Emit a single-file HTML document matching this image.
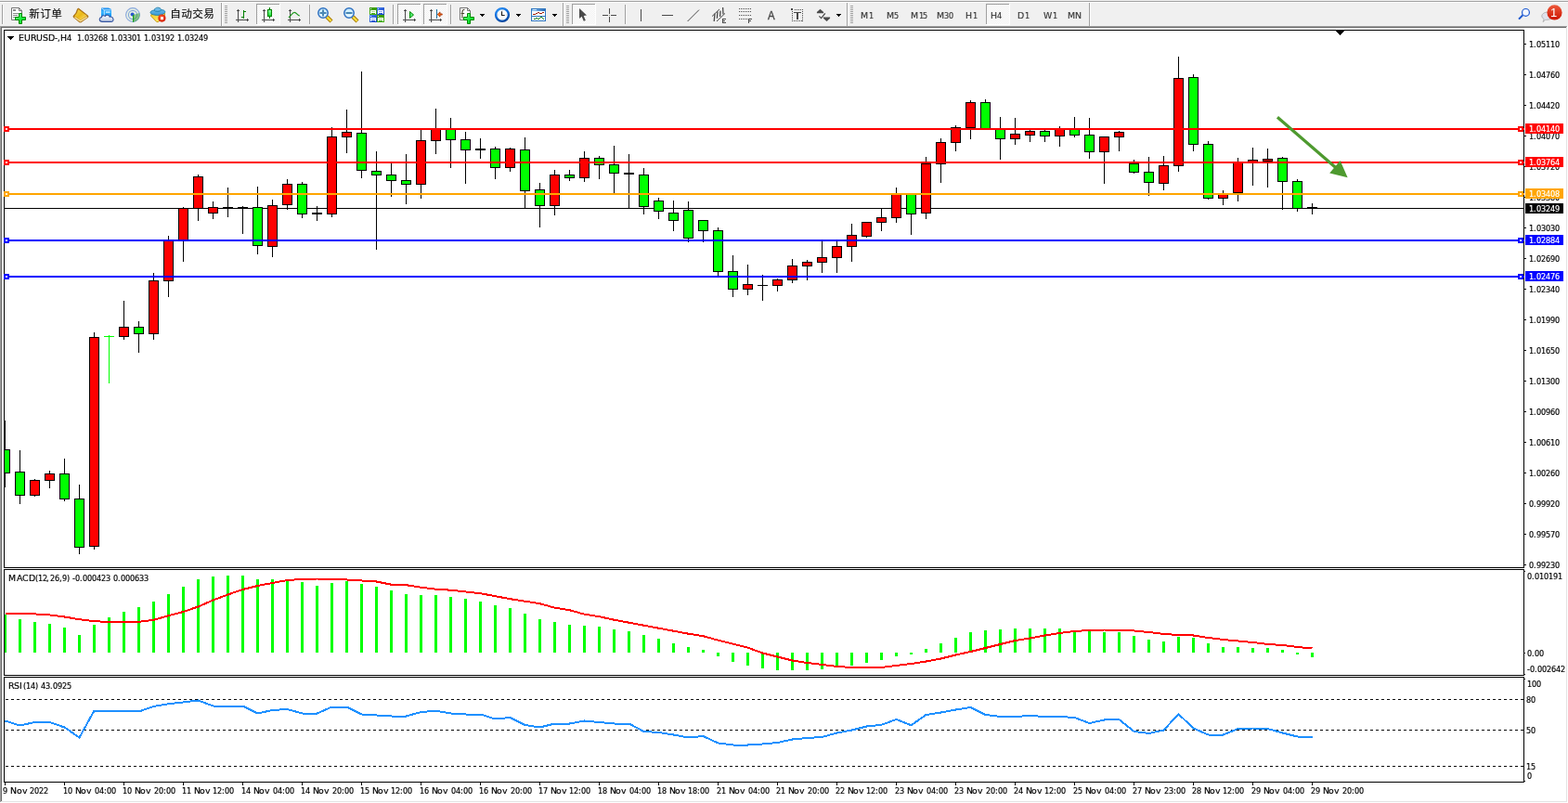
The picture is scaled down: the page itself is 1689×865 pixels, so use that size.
<!DOCTYPE html>
<html lang="zh"><head><meta charset="utf-8"><title>EURUSD-,H4</title>
<style>
html,body{margin:0;padding:0;background:#fff;overflow:hidden}
body{width:1689px;height:865px;position:relative;font-family:"Liberation Sans","Noto Sans CJK SC",sans-serif}
svg{position:absolute;left:0;top:0;display:block}
svg text{font-family:"Liberation Sans","Noto Sans CJK SC",sans-serif;white-space:pre}
.ct text{font-family:"DejaVu Sans Condensed","DejaVu Sans","Liberation Sans",sans-serif;font-size:9px}
.ct .w{font-family:"DejaVu Sans","Liberation Sans",sans-serif;font-size:9.4px}
</style></head><body>
<svg width="1689" height="865" viewBox="0 0 1689 865">
<defs>
<clipPath id="cm"><rect x="5" y="33" width="1636" height="578"/></clipPath>
<clipPath id="c2"><rect x="5" y="614" width="1636" height="113"/></clipPath>
<clipPath id="c3"><rect x="5" y="730" width="1636" height="112"/></clipPath>

<pattern id="chk" width="2" height="2" patternUnits="userSpaceOnUse"><rect width="2" height="2" fill="#fff"/><rect width="1" height="1" fill="#f0f0f0"/><rect x="1" y="1" width="1" height="1" fill="#f0f0f0"/></pattern>
<linearGradient id="gplus" x1="0" y1="0" x2="1" y2="1"><stop offset="0" stop-color="#8dff9a"/><stop offset=".5" stop-color="#1af040"/><stop offset="1" stop-color="#00c020"/></linearGradient>
<linearGradient id="ggold" x1="0" y1="0" x2="1" y2="1"><stop offset="0" stop-color="#f6d648"/><stop offset=".5" stop-color="#eab818"/><stop offset="1" stop-color="#ffe27a"/></linearGradient>
<linearGradient id="gsrv" x1="0" y1="0" x2="0" y2="1"><stop offset="0" stop-color="#1a8cf0"/><stop offset=".5" stop-color="#38b4ff"/><stop offset="1" stop-color="#0a8ef0"/></linearGradient>
<linearGradient id="gcloud" x1="0" y1="0" x2="0" y2="1"><stop offset="0" stop-color="#ffffff"/><stop offset="1" stop-color="#b8c6e0"/></linearGradient>
<linearGradient id="ghat" x1="0" y1="0" x2="0" y2="1"><stop offset="0" stop-color="#7cc4ee"/><stop offset="1" stop-color="#3a9ad6"/></linearGradient>
<linearGradient id="gface" x1="0" y1="0" x2="1" y2="1"><stop offset="0" stop-color="#f4c820"/><stop offset="1" stop-color="#fff480"/></linearGradient>
<radialGradient id="gstop" cx=".4" cy=".35" r=".7"><stop offset="0" stop-color="#ff5a30"/><stop offset="1" stop-color="#d01800"/></radialGradient>
<linearGradient id="gcandle" x1="0" y1="0" x2="0" y2="1"><stop offset="0" stop-color="#90ffa0"/><stop offset="1" stop-color="#18e038"/></linearGradient>
<linearGradient id="glens" x1="0" y1="0" x2="0" y2="1"><stop offset="0" stop-color="#c8ecff"/><stop offset="1" stop-color="#e8f8ff"/></linearGradient>
<linearGradient id="ghandle" x1="0" y1="0" x2="1" y2="0"><stop offset="0" stop-color="#c89000"/><stop offset=".5" stop-color="#fff060"/><stop offset="1" stop-color="#c89000"/></linearGradient>
<linearGradient id="gtg" x1="0" y1="0" x2="0" y2="1"><stop offset="0" stop-color="#3a9a08"/><stop offset="1" stop-color="#48b018"/></linearGradient>
<linearGradient id="gtb" x1="0" y1="0" x2="1" y2="1"><stop offset="0" stop-color="#4a80f0"/><stop offset="1" stop-color="#1040c0"/></linearGradient>
<radialGradient id="gclock" cx=".4" cy=".3" r=".8"><stop offset="0" stop-color="#40a8ff"/><stop offset=".6" stop-color="#1070e0"/><stop offset="1" stop-color="#003c90"/></radialGradient>
<linearGradient id="gtpl" x1="0" y1="0" x2="1" y2="0"><stop offset="0" stop-color="#8ec4f4"/><stop offset="1" stop-color="#2a6cb8"/></linearGradient>
<linearGradient id="gbadge" x1="0" y1="0" x2="0" y2="1"><stop offset="0" stop-color="#ee5a3c"/><stop offset="1" stop-color="#cc1400"/></linearGradient>
<radialGradient id="gsig" cx=".5" cy=".5" r=".5"><stop offset="0" stop-color="#ffffff" stop-opacity="0"/><stop offset="1" stop-color="#3a9a3a" stop-opacity=".0"/></radialGradient>

</defs>
<g shape-rendering="crispEdges">
<rect x="0" y="0" width="1689" height="865" fill="#fff"/>
<rect x="0" y="0" width="1689" height="28" fill="#f0f0f0"/>
<rect x="0" y="1" width="1689" height="1" fill="#a0a0a0"/>
<rect x="0" y="2" width="1689" height="1" fill="#fff"/>
<rect x="0" y="28" width="1689" height="1" fill="#a0a0a0"/>
<rect x="0" y="28" width="1" height="837" fill="#a0a0a0"/>
<rect x="1" y="29" width="1687" height="1" fill="#696969"/>
<rect x="1" y="29" width="1" height="835" fill="#696969"/>
<rect x="1688" y="28" width="1" height="837" fill="#fff"/>
<rect x="0" y="864" width="1689" height="1" fill="#fff"/>
<rect x="1687" y="29" width="1" height="835" fill="#e3e3e3"/>
<rect x="1" y="863" width="1687" height="1" fill="#e3e3e3"/>
<rect x="4" y="32" width="1638" height="1" fill="#000"/><rect x="4" y="611" width="1638" height="1" fill="#000"/><rect x="4" y="32" width="1" height="580" fill="#000"/><rect x="1641" y="32" width="1" height="580" fill="#000"/><rect x="4" y="613" width="1638" height="1" fill="#000"/><rect x="4" y="727" width="1638" height="1" fill="#000"/><rect x="4" y="613" width="1" height="115" fill="#000"/><rect x="1641" y="613" width="1" height="115" fill="#000"/><rect x="4" y="729" width="1638" height="1" fill="#000"/><rect x="4" y="842" width="1638" height="1" fill="#000"/><rect x="4" y="729" width="1" height="114" fill="#000"/><rect x="1641" y="729" width="1" height="114" fill="#000"/><rect x="5" y="224" width="1636" height="1" fill="#000"/><g clip-path="url(#cm)"><rect x="5" y="453" width="1" height="72" fill="#000"/><rect x="0.5" y="484.5" width="10" height="25" fill="#00ff00" stroke="#000" stroke-width="1"/><rect x="21" y="485" width="1" height="58" fill="#000"/><rect x="16.5" y="508.5" width="10" height="25" fill="#00ff00" stroke="#000" stroke-width="1"/><rect x="37" y="516" width="1" height="19" fill="#000"/><rect x="32.5" y="517.5" width="10" height="16" fill="#ff0000" stroke="#000" stroke-width="1"/><rect x="53" y="507" width="1" height="19" fill="#000"/><rect x="48.5" y="510.5" width="10" height="7" fill="#ff0000" stroke="#000" stroke-width="1"/><rect x="69" y="494" width="1" height="46" fill="#000"/><rect x="64.5" y="510.5" width="10" height="27" fill="#00ff00" stroke="#000" stroke-width="1"/><rect x="85" y="522" width="1" height="75" fill="#000"/><rect x="80.5" y="537.5" width="10" height="52" fill="#00ff00" stroke="#000" stroke-width="1"/><rect x="101" y="358" width="1" height="234" fill="#000"/><rect x="96.5" y="363.5" width="10" height="225" fill="#ff0000" stroke="#000" stroke-width="1"/><rect x="133" y="324" width="1" height="42" fill="#000"/><rect x="128.5" y="352.5" width="10" height="10" fill="#ff0000" stroke="#000" stroke-width="1"/><rect x="149" y="346" width="1" height="34" fill="#000"/><rect x="144.5" y="352.5" width="10" height="7" fill="#00ff00" stroke="#000" stroke-width="1"/><rect x="165" y="294" width="1" height="72" fill="#000"/><rect x="160.5" y="302.5" width="10" height="57" fill="#ff0000" stroke="#000" stroke-width="1"/><rect x="181" y="254" width="1" height="66" fill="#000"/><rect x="176.5" y="259.5" width="10" height="43" fill="#ff0000" stroke="#000" stroke-width="1"/><rect x="197" y="223" width="1" height="59" fill="#000"/><rect x="192.5" y="224.5" width="10" height="34" fill="#ff0000" stroke="#000" stroke-width="1"/><rect x="213" y="188" width="1" height="50" fill="#000"/><rect x="208.5" y="190.5" width="10" height="34" fill="#ff0000" stroke="#000" stroke-width="1"/><rect x="229" y="217" width="1" height="19" fill="#000"/><rect x="224.5" y="223.5" width="10" height="6" fill="#ff0000" stroke="#000" stroke-width="1"/><rect x="277" y="201" width="1" height="73" fill="#000"/><rect x="272.5" y="223.5" width="10" height="41" fill="#00ff00" stroke="#000" stroke-width="1"/><rect x="293" y="215" width="1" height="62" fill="#000"/><rect x="288.5" y="221.5" width="10" height="44" fill="#ff0000" stroke="#000" stroke-width="1"/><rect x="309" y="193" width="1" height="33" fill="#000"/><rect x="304.5" y="198.5" width="10" height="22" fill="#ff0000" stroke="#000" stroke-width="1"/><rect x="325" y="196" width="1" height="39" fill="#000"/><rect x="320.5" y="198.5" width="10" height="32" fill="#00ff00" stroke="#000" stroke-width="1"/><rect x="357" y="137" width="1" height="97" fill="#000"/><rect x="352.5" y="147.5" width="10" height="83" fill="#ff0000" stroke="#000" stroke-width="1"/><rect x="373" y="118" width="1" height="47" fill="#000"/><rect x="368.5" y="142.5" width="10" height="5" fill="#ff0000" stroke="#000" stroke-width="1"/><rect x="389" y="77" width="1" height="115" fill="#000"/><rect x="384.5" y="143.5" width="10" height="40" fill="#00ff00" stroke="#000" stroke-width="1"/><rect x="405" y="163" width="1" height="106" fill="#000"/><rect x="400.5" y="184.5" width="10" height="4" fill="#00ff00" stroke="#000" stroke-width="1"/><rect x="421" y="175" width="1" height="37" fill="#000"/><rect x="416.5" y="188.5" width="10" height="6" fill="#00ff00" stroke="#000" stroke-width="1"/><rect x="437" y="166" width="1" height="54" fill="#000"/><rect x="432.5" y="194.5" width="10" height="4" fill="#00ff00" stroke="#000" stroke-width="1"/><rect x="453" y="140" width="1" height="74" fill="#000"/><rect x="448.5" y="151.5" width="10" height="47" fill="#ff0000" stroke="#000" stroke-width="1"/><rect x="469" y="117" width="1" height="49" fill="#000"/><rect x="464.5" y="139.5" width="10" height="12" fill="#ff0000" stroke="#000" stroke-width="1"/><rect x="485" y="127" width="1" height="54" fill="#000"/><rect x="480.5" y="139.5" width="10" height="11" fill="#00ff00" stroke="#000" stroke-width="1"/><rect x="501" y="142" width="1" height="56" fill="#000"/><rect x="496.5" y="150.5" width="10" height="11" fill="#00ff00" stroke="#000" stroke-width="1"/><rect x="533" y="158" width="1" height="35" fill="#000"/><rect x="528.5" y="160.5" width="10" height="20" fill="#00ff00" stroke="#000" stroke-width="1"/><rect x="549" y="159" width="1" height="26" fill="#000"/><rect x="544.5" y="160.5" width="10" height="20" fill="#ff0000" stroke="#000" stroke-width="1"/><rect x="565" y="148" width="1" height="76" fill="#000"/><rect x="560.5" y="161.5" width="10" height="44" fill="#00ff00" stroke="#000" stroke-width="1"/><rect x="581" y="197" width="1" height="48" fill="#000"/><rect x="576.5" y="204.5" width="10" height="17" fill="#00ff00" stroke="#000" stroke-width="1"/><rect x="597" y="183" width="1" height="49" fill="#000"/><rect x="592.5" y="188.5" width="10" height="33" fill="#ff0000" stroke="#000" stroke-width="1"/><rect x="613" y="183" width="1" height="12" fill="#000"/><rect x="608.5" y="188.5" width="10" height="3" fill="#00ff00" stroke="#000" stroke-width="1"/><rect x="629" y="163" width="1" height="33" fill="#000"/><rect x="624.5" y="170.5" width="10" height="21" fill="#ff0000" stroke="#000" stroke-width="1"/><rect x="645" y="168" width="1" height="25" fill="#000"/><rect x="640.5" y="170.5" width="10" height="7" fill="#00ff00" stroke="#000" stroke-width="1"/><rect x="661" y="157" width="1" height="51" fill="#000"/><rect x="656.5" y="177.5" width="10" height="9" fill="#00ff00" stroke="#000" stroke-width="1"/><rect x="693" y="181" width="1" height="50" fill="#000"/><rect x="688.5" y="188.5" width="10" height="34" fill="#00ff00" stroke="#000" stroke-width="1"/><rect x="709" y="213" width="1" height="23" fill="#000"/><rect x="704.5" y="216.5" width="10" height="11" fill="#00ff00" stroke="#000" stroke-width="1"/><rect x="725" y="216" width="1" height="33" fill="#000"/><rect x="720.5" y="229.5" width="10" height="8" fill="#00ff00" stroke="#000" stroke-width="1"/><rect x="741" y="217" width="1" height="44" fill="#000"/><rect x="736.5" y="226.5" width="10" height="30" fill="#00ff00" stroke="#000" stroke-width="1"/><rect x="757" y="237" width="1" height="24" fill="#000"/><rect x="752.5" y="237.5" width="10" height="11" fill="#00ff00" stroke="#000" stroke-width="1"/><rect x="773" y="245" width="1" height="52" fill="#000"/><rect x="768.5" y="248.5" width="10" height="44" fill="#00ff00" stroke="#000" stroke-width="1"/><rect x="789" y="275" width="1" height="45" fill="#000"/><rect x="784.5" y="292.5" width="10" height="19" fill="#00ff00" stroke="#000" stroke-width="1"/><rect x="805" y="285" width="1" height="33" fill="#000"/><rect x="800.5" y="306.5" width="10" height="5" fill="#ff0000" stroke="#000" stroke-width="1"/><rect x="837" y="300" width="1" height="14" fill="#000"/><rect x="832.5" y="301.5" width="10" height="6" fill="#ff0000" stroke="#000" stroke-width="1"/><rect x="853" y="279" width="1" height="26" fill="#000"/><rect x="848.5" y="286.5" width="10" height="15" fill="#ff0000" stroke="#000" stroke-width="1"/><rect x="869" y="280" width="1" height="22" fill="#000"/><rect x="864.5" y="282.5" width="10" height="4" fill="#ff0000" stroke="#000" stroke-width="1"/><rect x="885" y="260" width="1" height="34" fill="#000"/><rect x="880.5" y="277.5" width="10" height="5" fill="#ff0000" stroke="#000" stroke-width="1"/><rect x="901" y="260" width="1" height="34" fill="#000"/><rect x="896.5" y="265.5" width="10" height="12" fill="#ff0000" stroke="#000" stroke-width="1"/><rect x="917" y="241" width="1" height="41" fill="#000"/><rect x="912.5" y="253.5" width="10" height="12" fill="#ff0000" stroke="#000" stroke-width="1"/><rect x="933" y="239" width="1" height="17" fill="#000"/><rect x="928.5" y="239.5" width="10" height="15" fill="#ff0000" stroke="#000" stroke-width="1"/><rect x="949" y="225" width="1" height="24" fill="#000"/><rect x="944.5" y="234.5" width="10" height="5" fill="#ff0000" stroke="#000" stroke-width="1"/><rect x="965" y="202" width="1" height="38" fill="#000"/><rect x="960.5" y="208.5" width="10" height="26" fill="#ff0000" stroke="#000" stroke-width="1"/><rect x="981" y="208" width="1" height="45" fill="#000"/><rect x="976.5" y="208.5" width="10" height="22" fill="#00ff00" stroke="#000" stroke-width="1"/><rect x="997" y="169" width="1" height="67" fill="#000"/><rect x="992.5" y="176.5" width="10" height="53" fill="#ff0000" stroke="#000" stroke-width="1"/><rect x="1013" y="149" width="1" height="48" fill="#000"/><rect x="1008.5" y="153.5" width="10" height="23" fill="#ff0000" stroke="#000" stroke-width="1"/><rect x="1029" y="135" width="1" height="28" fill="#000"/><rect x="1024.5" y="137.5" width="10" height="16" fill="#ff0000" stroke="#000" stroke-width="1"/><rect x="1045" y="108" width="1" height="42" fill="#000"/><rect x="1040.5" y="110.5" width="10" height="27" fill="#ff0000" stroke="#000" stroke-width="1"/><rect x="1061" y="107" width="1" height="32" fill="#000"/><rect x="1056.5" y="110.5" width="10" height="28" fill="#00ff00" stroke="#000" stroke-width="1"/><rect x="1077" y="126" width="1" height="46" fill="#000"/><rect x="1072.5" y="139.5" width="10" height="10" fill="#00ff00" stroke="#000" stroke-width="1"/><rect x="1093" y="127" width="1" height="29" fill="#000"/><rect x="1088.5" y="144.5" width="10" height="5" fill="#ff0000" stroke="#000" stroke-width="1"/><rect x="1109" y="140" width="1" height="13" fill="#000"/><rect x="1104.5" y="141.5" width="10" height="4" fill="#ff0000" stroke="#000" stroke-width="1"/><rect x="1125" y="140" width="1" height="13" fill="#000"/><rect x="1120.5" y="141.5" width="10" height="5" fill="#00ff00" stroke="#000" stroke-width="1"/><rect x="1141" y="136" width="1" height="22" fill="#000"/><rect x="1136.5" y="139.5" width="10" height="7" fill="#ff0000" stroke="#000" stroke-width="1"/><rect x="1157" y="126" width="1" height="22" fill="#000"/><rect x="1152.5" y="139.5" width="10" height="6" fill="#00ff00" stroke="#000" stroke-width="1"/><rect x="1173" y="127" width="1" height="44" fill="#000"/><rect x="1168.5" y="145.5" width="10" height="18" fill="#00ff00" stroke="#000" stroke-width="1"/><rect x="1189" y="147" width="1" height="51" fill="#000"/><rect x="1184.5" y="147.5" width="10" height="16" fill="#ff0000" stroke="#000" stroke-width="1"/><rect x="1205" y="141" width="1" height="22" fill="#000"/><rect x="1200.5" y="142.5" width="10" height="5" fill="#ff0000" stroke="#000" stroke-width="1"/><rect x="1221" y="172" width="1" height="15" fill="#000"/><rect x="1216.5" y="176.5" width="10" height="9" fill="#00ff00" stroke="#000" stroke-width="1"/><rect x="1237" y="169" width="1" height="42" fill="#000"/><rect x="1232.5" y="185.5" width="10" height="11" fill="#00ff00" stroke="#000" stroke-width="1"/><rect x="1253" y="168" width="1" height="37" fill="#000"/><rect x="1248.5" y="178.5" width="10" height="19" fill="#ff0000" stroke="#000" stroke-width="1"/><rect x="1269" y="61" width="1" height="124" fill="#000"/><rect x="1264.5" y="84.5" width="10" height="94" fill="#ff0000" stroke="#000" stroke-width="1"/><rect x="1285" y="80" width="1" height="83" fill="#000"/><rect x="1280.5" y="83.5" width="10" height="72" fill="#00ff00" stroke="#000" stroke-width="1"/><rect x="1301" y="152" width="1" height="63" fill="#000"/><rect x="1296.5" y="155.5" width="10" height="58" fill="#00ff00" stroke="#000" stroke-width="1"/><rect x="1317" y="205" width="1" height="16" fill="#000"/><rect x="1312.5" y="209.5" width="10" height="4" fill="#ff0000" stroke="#000" stroke-width="1"/><rect x="1333" y="170" width="1" height="47" fill="#000"/><rect x="1328.5" y="175.5" width="10" height="32" fill="#ff0000" stroke="#000" stroke-width="1"/><rect x="1349" y="159" width="1" height="41" fill="#000"/><rect x="1344.5" y="172.5" width="10" height="2" fill="#ff0000" stroke="#000" stroke-width="1"/><rect x="1365" y="160" width="1" height="42" fill="#000"/><rect x="1360.5" y="171.5" width="10" height="2" fill="#ff0000" stroke="#000" stroke-width="1"/><rect x="1381" y="169" width="1" height="57" fill="#000"/><rect x="1376.5" y="170.5" width="10" height="25" fill="#00ff00" stroke="#000" stroke-width="1"/><rect x="1397" y="193" width="1" height="35" fill="#000"/><rect x="1392.5" y="195.5" width="10" height="29" fill="#00ff00" stroke="#000" stroke-width="1"/><rect x="117" y="361" width="1" height="52" fill="#00ff00"/><rect x="112" y="362" width="11" height="1" fill="#00ff00"/><rect x="245" y="202" width="1" height="32" fill="#000"/><rect x="240" y="223" width="11" height="1" fill="#000"/><rect x="261" y="222" width="1" height="30" fill="#000"/><rect x="256" y="223" width="11" height="1" fill="#000"/><rect x="341" y="222" width="1" height="16" fill="#000"/><rect x="336" y="229" width="11" height="2" fill="#000"/><rect x="517" y="149" width="1" height="22" fill="#000"/><rect x="512" y="160" width="11" height="2" fill="#000"/><rect x="677" y="166" width="1" height="59" fill="#000"/><rect x="672" y="186" width="11" height="2" fill="#000"/><rect x="821" y="296" width="1" height="28" fill="#000"/><rect x="816" y="307" width="11" height="1" fill="#000"/><rect x="1413" y="219" width="1" height="12" fill="#000"/><rect x="1408" y="223" width="11" height="1" fill="#000"/></g><rect x="5" y="138" width="1637" height="2" fill="#ff0000"/><rect x="4" y="136" width="6" height="6" fill="#ff0000"/><rect x="6" y="138" width="2" height="2" fill="#fff"/><rect x="1635" y="136" width="6" height="6" fill="#ff0000"/><rect x="1637" y="138" width="2" height="2" fill="#fff"/><rect x="5" y="174" width="1637" height="2" fill="#ff0000"/><rect x="4" y="172" width="6" height="6" fill="#ff0000"/><rect x="6" y="174" width="2" height="2" fill="#fff"/><rect x="1635" y="172" width="6" height="6" fill="#ff0000"/><rect x="1637" y="174" width="2" height="2" fill="#fff"/><rect x="5" y="208" width="1637" height="2" fill="#ffa500"/><rect x="4" y="206" width="6" height="6" fill="#ffa500"/><rect x="6" y="208" width="2" height="2" fill="#fff"/><rect x="1635" y="206" width="6" height="6" fill="#ffa500"/><rect x="1637" y="208" width="2" height="2" fill="#fff"/><rect x="5" y="258" width="1637" height="2" fill="#0000ff"/><rect x="4" y="256" width="6" height="6" fill="#0000ff"/><rect x="6" y="258" width="2" height="2" fill="#fff"/><rect x="1635" y="256" width="6" height="6" fill="#0000ff"/><rect x="1637" y="258" width="2" height="2" fill="#fff"/><rect x="5" y="297" width="1637" height="2" fill="#0000ff"/><rect x="4" y="295" width="6" height="6" fill="#0000ff"/><rect x="6" y="297" width="2" height="2" fill="#fff"/><rect x="1635" y="295" width="6" height="6" fill="#0000ff"/><rect x="1637" y="297" width="2" height="2" fill="#fff"/><rect x="1642" y="47" width="2" height="1" fill="#000"/><rect x="1642" y="80" width="2" height="1" fill="#000"/><rect x="1642" y="113" width="2" height="1" fill="#000"/><rect x="1642" y="146" width="2" height="1" fill="#000"/><rect x="1642" y="179" width="2" height="1" fill="#000"/><rect x="1642" y="212" width="2" height="1" fill="#000"/><rect x="1642" y="245" width="2" height="1" fill="#000"/><rect x="1642" y="278" width="2" height="1" fill="#000"/><rect x="1642" y="311" width="2" height="1" fill="#000"/><rect x="1642" y="344" width="2" height="1" fill="#000"/><rect x="1642" y="377" width="2" height="1" fill="#000"/><rect x="1642" y="410" width="2" height="1" fill="#000"/><rect x="1642" y="443" width="2" height="1" fill="#000"/><rect x="1642" y="476" width="2" height="1" fill="#000"/><rect x="1642" y="509" width="2" height="1" fill="#000"/><rect x="1642" y="542" width="2" height="1" fill="#000"/><rect x="1642" y="575" width="2" height="1" fill="#000"/><rect x="1642" y="608" width="2" height="1" fill="#000"/><g clip-path="url(#c2)"><rect x="4" y="662" width="3" height="41" fill="#00ff00"/><rect x="20" y="667" width="3" height="36" fill="#00ff00"/><rect x="36" y="670" width="3" height="33" fill="#00ff00"/><rect x="52" y="672" width="3" height="31" fill="#00ff00"/><rect x="68" y="676" width="3" height="27" fill="#00ff00"/><rect x="84" y="684" width="3" height="19" fill="#00ff00"/><rect x="100" y="673" width="3" height="30" fill="#00ff00"/><rect x="116" y="665" width="3" height="38" fill="#00ff00"/><rect x="132" y="659" width="3" height="44" fill="#00ff00"/><rect x="148" y="654" width="3" height="49" fill="#00ff00"/><rect x="164" y="648" width="3" height="55" fill="#00ff00"/><rect x="180" y="640" width="3" height="63" fill="#00ff00"/><rect x="196" y="632" width="3" height="71" fill="#00ff00"/><rect x="212" y="624" width="3" height="79" fill="#00ff00"/><rect x="228" y="621" width="3" height="82" fill="#00ff00"/><rect x="244" y="620" width="3" height="83" fill="#00ff00"/><rect x="260" y="620" width="3" height="83" fill="#00ff00"/><rect x="276" y="624" width="3" height="79" fill="#00ff00"/><rect x="292" y="624" width="3" height="79" fill="#00ff00"/><rect x="308" y="625" width="3" height="78" fill="#00ff00"/><rect x="324" y="627" width="3" height="76" fill="#00ff00"/><rect x="340" y="631" width="3" height="72" fill="#00ff00"/><rect x="356" y="628" width="3" height="75" fill="#00ff00"/><rect x="372" y="626" width="3" height="77" fill="#00ff00"/><rect x="388" y="629" width="3" height="74" fill="#00ff00"/><rect x="404" y="632" width="3" height="71" fill="#00ff00"/><rect x="420" y="636" width="3" height="67" fill="#00ff00"/><rect x="436" y="640" width="3" height="63" fill="#00ff00"/><rect x="452" y="641" width="3" height="62" fill="#00ff00"/><rect x="468" y="641" width="3" height="62" fill="#00ff00"/><rect x="484" y="643" width="3" height="60" fill="#00ff00"/><rect x="500" y="645" width="3" height="58" fill="#00ff00"/><rect x="516" y="648" width="3" height="55" fill="#00ff00"/><rect x="532" y="652" width="3" height="51" fill="#00ff00"/><rect x="548" y="655" width="3" height="48" fill="#00ff00"/><rect x="564" y="661" width="3" height="42" fill="#00ff00"/><rect x="580" y="667" width="3" height="36" fill="#00ff00"/><rect x="596" y="670" width="3" height="33" fill="#00ff00"/><rect x="612" y="673" width="3" height="30" fill="#00ff00"/><rect x="628" y="674" width="3" height="29" fill="#00ff00"/><rect x="644" y="675" width="3" height="28" fill="#00ff00"/><rect x="660" y="678" width="3" height="25" fill="#00ff00"/><rect x="676" y="680" width="3" height="23" fill="#00ff00"/><rect x="692" y="684" width="3" height="19" fill="#00ff00"/><rect x="708" y="688" width="3" height="15" fill="#00ff00"/><rect x="724" y="693" width="3" height="10" fill="#00ff00"/><rect x="740" y="697" width="3" height="6" fill="#00ff00"/><rect x="756" y="700" width="3" height="3" fill="#00ff00"/><rect x="772" y="703" width="3" height="4" fill="#00ff00"/><rect x="788" y="703" width="3" height="10" fill="#00ff00"/><rect x="804" y="703" width="3" height="14" fill="#00ff00"/><rect x="820" y="703" width="3" height="17" fill="#00ff00"/><rect x="836" y="703" width="3" height="19" fill="#00ff00"/><rect x="852" y="703" width="3" height="19" fill="#00ff00"/><rect x="868" y="703" width="3" height="19" fill="#00ff00"/><rect x="884" y="703" width="3" height="18" fill="#00ff00"/><rect x="900" y="703" width="3" height="15" fill="#00ff00"/><rect x="916" y="703" width="3" height="14" fill="#00ff00"/><rect x="932" y="703" width="3" height="11" fill="#00ff00"/><rect x="948" y="703" width="3" height="8" fill="#00ff00"/><rect x="964" y="703" width="3" height="4" fill="#00ff00"/><rect x="980" y="703" width="3" height="2" fill="#00ff00"/><rect x="996" y="699" width="3" height="4" fill="#00ff00"/><rect x="1012" y="693" width="3" height="10" fill="#00ff00"/><rect x="1028" y="687" width="3" height="16" fill="#00ff00"/><rect x="1044" y="681" width="3" height="22" fill="#00ff00"/><rect x="1060" y="679" width="3" height="24" fill="#00ff00"/><rect x="1076" y="678" width="3" height="25" fill="#00ff00"/><rect x="1092" y="677" width="3" height="26" fill="#00ff00"/><rect x="1108" y="677" width="3" height="26" fill="#00ff00"/><rect x="1124" y="677" width="3" height="26" fill="#00ff00"/><rect x="1140" y="677" width="3" height="26" fill="#00ff00"/><rect x="1156" y="679" width="3" height="24" fill="#00ff00"/><rect x="1172" y="680" width="3" height="23" fill="#00ff00"/><rect x="1188" y="681" width="3" height="22" fill="#00ff00"/><rect x="1204" y="681" width="3" height="22" fill="#00ff00"/><rect x="1220" y="685" width="3" height="18" fill="#00ff00"/><rect x="1236" y="689" width="3" height="14" fill="#00ff00"/><rect x="1252" y="691" width="3" height="12" fill="#00ff00"/><rect x="1268" y="686" width="3" height="17" fill="#00ff00"/><rect x="1284" y="687" width="3" height="16" fill="#00ff00"/><rect x="1300" y="693" width="3" height="10" fill="#00ff00"/><rect x="1316" y="697" width="3" height="6" fill="#00ff00"/><rect x="1332" y="697" width="3" height="6" fill="#00ff00"/><rect x="1348" y="698" width="3" height="5" fill="#00ff00"/><rect x="1364" y="698" width="3" height="5" fill="#00ff00"/><rect x="1380" y="700" width="3" height="3" fill="#00ff00"/><rect x="1396" y="703" width="3" height="2" fill="#00ff00"/><rect x="1412" y="703" width="3" height="5" fill="#00ff00"/><polyline points="5.5,661.0 21.5,661.0 37.5,661.4 53.5,662.5 69.5,664.5 85.5,667.2 101.5,669.2 117.5,670.0 133.5,670.0 149.5,669.8 165.5,667.8 181.5,663.25 197.5,659.0 213.5,653.5 229.5,646.5 245.5,640.5 261.5,635.0 277.5,631.0 293.5,628.0 309.5,625.0 325.5,624.0 341.5,623.5 357.5,623.5 373.5,624.5 389.5,625.5 405.5,626.5 421.5,629.7 437.5,630.2 453.5,632.7 469.5,634.7 485.5,635.7 501.5,637.45 517.5,639.2 533.5,642.2 549.5,645.2 565.5,647.7 581.5,650.2 597.5,654.7 613.5,657.2 629.5,661.7 645.5,664.2 661.5,667.7 677.5,670.7 693.5,673.7 709.5,676.7 725.5,679.7 741.5,682.7 757.5,685.2 773.5,689.7 789.5,693.7 805.5,697.7 821.5,703.5 837.5,707.5 853.5,711.5 869.5,714.0 885.5,716.0 901.5,718.0 917.5,719.0 933.5,719.5 949.5,719.0 965.5,717.0 981.5,715.0 997.5,712.5 1013.5,709.5 1029.5,705.5 1045.5,702.0 1061.5,698.0 1077.5,694.0 1093.5,690.0 1109.5,687.5 1125.5,684.5 1141.5,682.0 1157.5,680.0 1173.5,679.0 1189.5,678.5 1205.5,678.5 1221.5,679.5 1237.5,681.0 1253.5,683.0 1269.5,684.0 1285.5,684.5 1301.5,687.0 1317.5,689.0 1333.5,690.5 1349.5,692.0 1365.5,694.0 1381.5,695.0 1397.5,697.0 1413.5,698.5" fill="none" stroke="#ff0000" stroke-width="2" stroke-linejoin="round"/></g><rect x="1642" y="615" width="1" height="1" fill="#000"/><rect x="1642" y="703" width="1" height="1" fill="#000"/><rect x="1642" y="726" width="1" height="1" fill="#000"/><g clip-path="url(#c3)"><line x1="6" x2="1641" y1="753.5" y2="753.5" stroke="#000" stroke-width="1" stroke-dasharray="3 3"/><line x1="6" x2="1641" y1="786.5" y2="786.5" stroke="#000" stroke-width="1" stroke-dasharray="3 3"/><line x1="6" x2="1641" y1="825.5" y2="825.5" stroke="#000" stroke-width="1" stroke-dasharray="3 3"/><polyline points="5.5,776.5 21.5,781.5 37.5,778.0 53.5,778.0 69.5,783.5 85.5,794.5 101.5,765.5 117.5,765.5 133.5,765.5 149.5,766.5 165.5,761.0 181.5,758.25 197.5,756.5 213.5,754.5 229.5,760.5 245.5,760.5 261.5,760.5 277.5,768.5 293.5,765.0 309.5,764.0 325.5,768.5 341.5,768.5 357.5,761.5 373.5,761.5 389.5,769.5 405.5,770.5 421.5,771.5 437.5,771.5 453.5,767.0 469.5,765.75 485.5,768.5 501.5,769.5 517.5,769.5 533.5,774.5 549.5,773.0 565.5,781.0 581.5,783.5 597.5,779.5 613.5,779.5 629.5,776.5 645.5,778.0 661.5,779.5 677.5,779.5 693.5,788.0 709.5,789.0 725.5,791.5 741.5,794.5 757.5,793.0 773.5,800.5 789.5,802.5 805.5,802.5 821.5,801.5 837.5,800.0 853.5,796.5 869.5,795.0 885.5,794.0 901.5,789.5 917.5,786.5 933.5,782.5 949.5,780.75 965.5,775.0 981.5,781.25 997.5,770.0 1013.5,767.5 1029.5,764.5 1045.5,762.0 1061.5,770.0 1077.5,772.0 1093.5,772.0 1109.5,771.0 1125.5,772.0 1141.5,772.0 1157.5,773.0 1173.5,779.0 1189.5,775.5 1205.5,775.0 1221.5,788.0 1237.5,790.0 1253.5,786.5 1269.5,769.3 1285.5,784.5 1301.5,791.5 1317.5,791.5 1333.5,785.0 1349.5,784.5 1365.5,785.0 1381.5,789.5 1397.5,793.5 1413.5,793.5" fill="none" stroke="#1e90ff" stroke-width="2" stroke-linejoin="round"/></g><rect x="1642" y="731" width="1" height="1" fill="#000"/><rect x="1642" y="841" width="1" height="1" fill="#000"/><rect x="5" y="843" width="1" height="3" fill="#000"/><rect x="69" y="843" width="1" height="3" fill="#000"/><rect x="133" y="843" width="1" height="3" fill="#000"/><rect x="197" y="843" width="1" height="3" fill="#000"/><rect x="261" y="843" width="1" height="3" fill="#000"/><rect x="325" y="843" width="1" height="3" fill="#000"/><rect x="389" y="843" width="1" height="3" fill="#000"/><rect x="453" y="843" width="1" height="3" fill="#000"/><rect x="517" y="843" width="1" height="3" fill="#000"/><rect x="581" y="843" width="1" height="3" fill="#000"/><rect x="645" y="843" width="1" height="3" fill="#000"/><rect x="709" y="843" width="1" height="3" fill="#000"/><rect x="773" y="843" width="1" height="3" fill="#000"/><rect x="837" y="843" width="1" height="3" fill="#000"/><rect x="901" y="843" width="1" height="3" fill="#000"/><rect x="965" y="843" width="1" height="3" fill="#000"/><rect x="1029" y="843" width="1" height="3" fill="#000"/><rect x="1093" y="843" width="1" height="3" fill="#000"/><rect x="1157" y="843" width="1" height="3" fill="#000"/><rect x="1221" y="843" width="1" height="3" fill="#000"/><rect x="1285" y="843" width="1" height="3" fill="#000"/><rect x="1349" y="843" width="1" height="3" fill="#000"/><rect x="1413" y="843" width="1" height="3" fill="#000"/><rect x="8" y="39" width="7" height="1" fill="#000"/><rect x="9" y="40" width="5" height="1" fill="#000"/><rect x="10" y="41" width="3" height="1" fill="#000"/><rect x="11" y="42" width="1" height="1" fill="#000"/><rect x="1439" y="33" width="9" height="1" fill="#000"/><rect x="1440" y="34" width="7" height="1" fill="#000"/><rect x="1441" y="35" width="5" height="1" fill="#000"/><rect x="1442" y="36" width="3" height="1" fill="#000"/><rect x="1443" y="37" width="1" height="1" fill="#000"/>
</g>
<g class="ct"><text y="51" stroke="#000" stroke-width="0.18"><tspan x="1647 1652 1655 1660 1665 1670 1675">1.05110</tspan></text><text y="84" stroke="#000" stroke-width="0.18"><tspan x="1647 1652 1655 1660 1665 1670 1675">1.04760</tspan></text><text y="117" stroke="#000" stroke-width="0.18"><tspan x="1647 1652 1655 1660 1665 1670 1675">1.04420</tspan></text><text y="150" stroke="#000" stroke-width="0.18"><tspan x="1647 1652 1655 1660 1665 1670 1675">1.04070</tspan></text><text y="183" stroke="#000" stroke-width="0.18"><tspan x="1647 1652 1655 1660 1665 1670 1675">1.03720</tspan></text><text y="216" stroke="#000" stroke-width="0.18"><tspan x="1647 1652 1655 1660 1665 1670 1675">1.03380</tspan></text><text y="249" stroke="#000" stroke-width="0.18"><tspan x="1647 1652 1655 1660 1665 1670 1675">1.03030</tspan></text><text y="282" stroke="#000" stroke-width="0.18"><tspan x="1647 1652 1655 1660 1665 1670 1675">1.02690</tspan></text><text y="315" stroke="#000" stroke-width="0.18"><tspan x="1647 1652 1655 1660 1665 1670 1675">1.02340</tspan></text><text y="348" stroke="#000" stroke-width="0.18"><tspan x="1647 1652 1655 1660 1665 1670 1675">1.01990</tspan></text><text y="381" stroke="#000" stroke-width="0.18"><tspan x="1647 1652 1655 1660 1665 1670 1675">1.01650</tspan></text><text y="414" stroke="#000" stroke-width="0.18"><tspan x="1647 1652 1655 1660 1665 1670 1675">1.01300</tspan></text><text y="447" stroke="#000" stroke-width="0.18"><tspan x="1647 1652 1655 1660 1665 1670 1675">1.00960</tspan></text><text y="480" stroke="#000" stroke-width="0.18"><tspan x="1647 1652 1655 1660 1665 1670 1675">1.00610</tspan></text><text y="513" stroke="#000" stroke-width="0.18"><tspan x="1647 1652 1655 1660 1665 1670 1675">1.00260</tspan></text><text y="546" stroke="#000" stroke-width="0.18"><tspan x="1647 1652 1655 1660 1665 1670 1675">0.99920</tspan></text><text y="579" stroke="#000" stroke-width="0.18"><tspan x="1647 1652 1655 1660 1665 1670 1675">0.99570</tspan></text><text y="612" stroke="#000" stroke-width="0.18"><tspan x="1647 1652 1655 1660 1665 1670 1675">0.99230</tspan></text><text y="624" stroke="#000" stroke-width="0.18"><tspan x="1645 1650 1653 1658 1663 1668 1673 1678">0.010191</tspan></text><text y="707" stroke="#000" stroke-width="0.18"><tspan x="1645 1650 1653 1658">0.00</tspan></text><text y="724" stroke="#000" stroke-width="0.18"><tspan x="1645 1648 1653 1656 1661 1666 1671 1676 1681">-0.002642</tspan></text><text y="740" stroke="#000" stroke-width="0.18"><tspan x="1645 1650 1655">100</tspan></text><text y="757" stroke="#000" stroke-width="0.18"><tspan x="1644 1649">80</tspan></text><text y="790" stroke="#000" stroke-width="0.18"><tspan x="1644 1649">50</tspan></text><text y="829" stroke="#000" stroke-width="0.18"><tspan x="1644 1649">15</tspan></text><text y="839" stroke="#000" stroke-width="0.18"><tspan x="1645">0</tspan></text><text y="855" stroke="#000" stroke-width="0.18"><tspan x="3">9</tspan> <tspan x="11 18 24" class="w">Nov</tspan> <tspan x="32 37 42 47">2022</tspan></text><text y="855" stroke="#000" stroke-width="0.18"><tspan x="68 73">10</tspan> <tspan x="81 87 93" class="w">Nov</tspan> <tspan x="102 107 112 115 120">04:00</tspan></text><text y="855" stroke="#000" stroke-width="0.18"><tspan x="132 137">10</tspan> <tspan x="145 151 157" class="w">Nov</tspan> <tspan x="166 171 176 179 184">20:00</tspan></text><text y="855" stroke="#000" stroke-width="0.18"><tspan x="196 201">11</tspan> <tspan x="209 215 221" class="w">Nov</tspan> <tspan x="229 234 239 242 247">12:00</tspan></text><text y="855" stroke="#000" stroke-width="0.18"><tspan x="260 265">14</tspan> <tspan x="273 279 285" class="w">Nov</tspan> <tspan x="294 299 304 307 312">04:00</tspan></text><text y="855" stroke="#000" stroke-width="0.18"><tspan x="324 329">14</tspan> <tspan x="337 343 349" class="w">Nov</tspan> <tspan x="358 363 368 371 376">20:00</tspan></text><text y="855" stroke="#000" stroke-width="0.18"><tspan x="388 393">15</tspan> <tspan x="401 407 413" class="w">Nov</tspan> <tspan x="421 426 431 434 439">12:00</tspan></text><text y="855" stroke="#000" stroke-width="0.18"><tspan x="452 457">16</tspan> <tspan x="465 471 477" class="w">Nov</tspan> <tspan x="486 491 496 499 504">04:00</tspan></text><text y="855" stroke="#000" stroke-width="0.18"><tspan x="516 521">16</tspan> <tspan x="529 535 541" class="w">Nov</tspan> <tspan x="550 555 560 563 568">20:00</tspan></text><text y="855" stroke="#000" stroke-width="0.18"><tspan x="580 585">17</tspan> <tspan x="593 599 605" class="w">Nov</tspan> <tspan x="613 618 623 626 631">12:00</tspan></text><text y="855" stroke="#000" stroke-width="0.18"><tspan x="644 649">18</tspan> <tspan x="657 663 669" class="w">Nov</tspan> <tspan x="678 683 688 691 696">04:00</tspan></text><text y="855" stroke="#000" stroke-width="0.18"><tspan x="708 713">18</tspan> <tspan x="721 727 733" class="w">Nov</tspan> <tspan x="741 746 751 754 759">18:00</tspan></text><text y="855" stroke="#000" stroke-width="0.18"><tspan x="772 777">21</tspan> <tspan x="785 791 797" class="w">Nov</tspan> <tspan x="806 811 816 819 824">04:00</tspan></text><text y="855" stroke="#000" stroke-width="0.18"><tspan x="836 841">21</tspan> <tspan x="849 855 861" class="w">Nov</tspan> <tspan x="870 875 880 883 888">20:00</tspan></text><text y="855" stroke="#000" stroke-width="0.18"><tspan x="900 905">22</tspan> <tspan x="913 919 925" class="w">Nov</tspan> <tspan x="933 938 943 946 951">12:00</tspan></text><text y="855" stroke="#000" stroke-width="0.18"><tspan x="964 969">23</tspan> <tspan x="977 983 989" class="w">Nov</tspan> <tspan x="998 1003 1008 1011 1016">04:00</tspan></text><text y="855" stroke="#000" stroke-width="0.18"><tspan x="1028 1033">23</tspan> <tspan x="1041 1047 1053" class="w">Nov</tspan> <tspan x="1062 1067 1072 1075 1080">20:00</tspan></text><text y="855" stroke="#000" stroke-width="0.18"><tspan x="1092 1097">24</tspan> <tspan x="1105 1111 1117" class="w">Nov</tspan> <tspan x="1125 1130 1135 1138 1143">12:00</tspan></text><text y="855" stroke="#000" stroke-width="0.18"><tspan x="1156 1161">25</tspan> <tspan x="1169 1175 1181" class="w">Nov</tspan> <tspan x="1190 1195 1200 1203 1208">04:00</tspan></text><text y="855" stroke="#000" stroke-width="0.18"><tspan x="1220 1225">27</tspan> <tspan x="1233 1239 1245" class="w">Nov</tspan> <tspan x="1254 1259 1264 1267 1272">23:00</tspan></text><text y="855" stroke="#000" stroke-width="0.18"><tspan x="1284 1289">28</tspan> <tspan x="1297 1303 1309" class="w">Nov</tspan> <tspan x="1317 1322 1327 1330 1335">12:00</tspan></text><text y="855" stroke="#000" stroke-width="0.18"><tspan x="1348 1353">29</tspan> <tspan x="1361 1367 1373" class="w">Nov</tspan> <tspan x="1382 1387 1392 1395 1400">04:00</tspan></text><text y="855" stroke="#000" stroke-width="0.18"><tspan x="1412 1417">29</tspan> <tspan x="1425 1431 1437" class="w">Nov</tspan> <tspan x="1446 1451 1456 1459 1464">20:00</tspan></text><text y="44" stroke="#000" stroke-width="0.18"><tspan x="20 26 33 39 46 52" class="w">EURUSD</tspan><tspan x="59 62">-,</tspan><tspan x="65" class="w">H</tspan><tspan x="72">4</tspan>  <tspan x="83 88 91 96 101 106 111">1.03268</tspan> <tspan x="119 124 127 132 137 142 147">1.03301</tspan> <tspan x="155 160 163 168 173 178 183">1.03192</tspan> <tspan x="191 196 199 204 209 214 219">1.03249</tspan></text><text y="626" stroke="#000" stroke-width="0.18"><tspan x="9 18 24 31" class="w">MACD</tspan><tspan x="38 41 46 50 54 59 64 67 72">(12,26,9)</tspan> <tspan x="78 81 86 89 94 99 104 109 114">-0.000423</tspan> <tspan x="122 127 130 135 140 145 150 155">0.000633</tspan></text><text y="742" stroke="#000" stroke-width="0.18"><tspan x="9 15 21" class="w">RSI</tspan><tspan x="25 28 33 38">(14)</tspan> <tspan x="44 49 54 57 62 67 72">43.0925</tspan></text></g>
<g shape-rendering="crispEdges"><rect x="1643" y="133" width="41" height="11" fill="#ff0000"/><rect x="1643" y="169" width="41" height="11" fill="#ff0000"/><rect x="1643" y="203" width="41" height="11" fill="#ffa500"/><rect x="1643" y="253" width="41" height="11" fill="#0000ff"/><rect x="1643" y="292" width="41" height="11" fill="#0000ff"/><rect x="1643" y="219" width="41" height="11" fill="#000"/></g>
<g class="ct"><text y="142" fill="#fff" stroke="#fff" stroke-width="0.18"><tspan x="1647 1652 1655 1660 1665 1670 1675">1.04140</tspan></text><text y="178" fill="#fff" stroke="#fff" stroke-width="0.18"><tspan x="1647 1652 1655 1660 1665 1670 1675">1.03764</tspan></text><text y="212" fill="#fff" stroke="#fff" stroke-width="0.18"><tspan x="1647 1652 1655 1660 1665 1670 1675">1.03408</tspan></text><text y="262" fill="#fff" stroke="#fff" stroke-width="0.18"><tspan x="1647 1652 1655 1660 1665 1670 1675">1.02884</tspan></text><text y="301" fill="#fff" stroke="#fff" stroke-width="0.18"><tspan x="1647 1652 1655 1660 1665 1670 1675">1.02476</tspan></text><text y="228" fill="#fff" stroke="#fff" stroke-width="0.18"><tspan x="1647 1652 1655 1660 1665 1670 1675">1.03249</tspan></text></g>
<g shape-rendering="geometricPrecision"><line x1="1376" y1="126.2" x2="1439" y2="180.800" stroke="#4e9a2f" stroke-width="3.2"/><path d="M1451.6 191.3 L1432.2 186.6 L1443.6 173 Z" fill="#4e9a2f"/></g>
<g shape-rendering="crispEdges"><rect x="2" y="5" width="1" height="21" fill="#a0a0a0"/><rect x="3" y="5" width="1" height="21" fill="#f8f8f8"/><rect x="238" y="3" width="1" height="25" fill="#a0a0a0"/><rect x="239" y="3" width="1" height="25" fill="#ffffff"/><rect x="242" y="6" width="3" height="1" fill="#a0a0a0"/><rect x="242" y="8" width="3" height="1" fill="#a0a0a0"/><rect x="242" y="10" width="3" height="1" fill="#a0a0a0"/><rect x="242" y="12" width="3" height="1" fill="#a0a0a0"/><rect x="242" y="14" width="3" height="1" fill="#a0a0a0"/><rect x="242" y="16" width="3" height="1" fill="#a0a0a0"/><rect x="242" y="18" width="3" height="1" fill="#a0a0a0"/><rect x="242" y="20" width="3" height="1" fill="#a0a0a0"/><rect x="242" y="22" width="3" height="1" fill="#a0a0a0"/><rect x="242" y="24" width="3" height="1" fill="#a0a0a0"/><rect x="333" y="5" width="1" height="21" fill="#a0a0a0"/><rect x="334" y="5" width="1" height="21" fill="#f8f8f8"/><rect x="423" y="5" width="1" height="21" fill="#a0a0a0"/><rect x="424" y="5" width="1" height="21" fill="#f8f8f8"/><rect x="485" y="5" width="1" height="21" fill="#a0a0a0"/><rect x="486" y="5" width="1" height="21" fill="#f8f8f8"/><rect x="606" y="3" width="1" height="25" fill="#a0a0a0"/><rect x="607" y="3" width="1" height="25" fill="#ffffff"/><rect x="610" y="6" width="3" height="1" fill="#a0a0a0"/><rect x="610" y="8" width="3" height="1" fill="#a0a0a0"/><rect x="610" y="10" width="3" height="1" fill="#a0a0a0"/><rect x="610" y="12" width="3" height="1" fill="#a0a0a0"/><rect x="610" y="14" width="3" height="1" fill="#a0a0a0"/><rect x="610" y="16" width="3" height="1" fill="#a0a0a0"/><rect x="610" y="18" width="3" height="1" fill="#a0a0a0"/><rect x="610" y="20" width="3" height="1" fill="#a0a0a0"/><rect x="610" y="22" width="3" height="1" fill="#a0a0a0"/><rect x="610" y="24" width="3" height="1" fill="#a0a0a0"/><rect x="673" y="5" width="1" height="21" fill="#a0a0a0"/><rect x="674" y="5" width="1" height="21" fill="#f8f8f8"/><rect x="912" y="3" width="1" height="25" fill="#a0a0a0"/><rect x="913" y="3" width="1" height="25" fill="#ffffff"/><rect x="916" y="6" width="3" height="1" fill="#a0a0a0"/><rect x="916" y="8" width="3" height="1" fill="#a0a0a0"/><rect x="916" y="10" width="3" height="1" fill="#a0a0a0"/><rect x="916" y="12" width="3" height="1" fill="#a0a0a0"/><rect x="916" y="14" width="3" height="1" fill="#a0a0a0"/><rect x="916" y="16" width="3" height="1" fill="#a0a0a0"/><rect x="916" y="18" width="3" height="1" fill="#a0a0a0"/><rect x="916" y="20" width="3" height="1" fill="#a0a0a0"/><rect x="916" y="22" width="3" height="1" fill="#a0a0a0"/><rect x="916" y="24" width="3" height="1" fill="#a0a0a0"/><rect x="1173" y="3" width="1" height="25" fill="#a0a0a0"/><rect x="1174" y="3" width="1" height="25" fill="#ffffff"/><rect x="276" y="4" width="26" height="23" fill="url(#chk)"/><rect x="276" y="4" width="25" height="1" fill="#a0a0a0"/><rect x="276" y="4" width="1" height="22" fill="#a0a0a0"/><rect x="276" y="26" width="26" height="1" fill="#fff"/><rect x="301" y="4" width="1" height="23" fill="#fff"/><rect x="428" y="4" width="26" height="23" fill="url(#chk)"/><rect x="428" y="4" width="25" height="1" fill="#a0a0a0"/><rect x="428" y="4" width="1" height="22" fill="#a0a0a0"/><rect x="428" y="26" width="26" height="1" fill="#fff"/><rect x="453" y="4" width="1" height="23" fill="#fff"/><rect x="456" y="4" width="26" height="23" fill="url(#chk)"/><rect x="456" y="4" width="25" height="1" fill="#a0a0a0"/><rect x="456" y="4" width="1" height="22" fill="#a0a0a0"/><rect x="456" y="26" width="26" height="1" fill="#fff"/><rect x="481" y="4" width="1" height="23" fill="#fff"/><rect x="616" y="4" width="26" height="23" fill="url(#chk)"/><rect x="616" y="4" width="25" height="1" fill="#a0a0a0"/><rect x="616" y="4" width="1" height="22" fill="#a0a0a0"/><rect x="616" y="26" width="26" height="1" fill="#fff"/><rect x="641" y="4" width="1" height="23" fill="#fff"/><rect x="1062" y="4" width="26" height="23" fill="url(#chk)"/><rect x="1062" y="4" width="25" height="1" fill="#a0a0a0"/><rect x="1062" y="4" width="1" height="22" fill="#a0a0a0"/><rect x="1062" y="26" width="26" height="1" fill="#fff"/><rect x="1087" y="4" width="1" height="23" fill="#fff"/><rect x="256" y="10" width="1" height="14" fill="#4a4a4a"/><rect x="255" y="11" width="3" height="1" fill="#4a4a4a"/><rect x="254" y="21" width="14" height="1" fill="#4a4a4a"/><rect x="266" y="20" width="1" height="3" fill="#4a4a4a"/><rect x="262" y="11" width="1" height="9" fill="#008000"/><rect x="263" y="12" width="2" height="1" fill="#008000"/><rect x="260" y="18" width="2" height="1" fill="#008000"/><rect x="284" y="10" width="1" height="14" fill="#4a4a4a"/><rect x="283" y="11" width="3" height="1" fill="#4a4a4a"/><rect x="282" y="21" width="14" height="1" fill="#4a4a4a"/><rect x="294" y="20" width="1" height="3" fill="#4a4a4a"/><rect x="290" y="8" width="1" height="12" fill="#008000"/><rect x="288" y="10" width="5" height="8" fill="#008000"/><rect x="289" y="11" width="3" height="6" fill="url(#gcandle)"/><rect x="312" y="10" width="1" height="14" fill="#4a4a4a"/><rect x="311" y="11" width="3" height="1" fill="#4a4a4a"/><rect x="310" y="21" width="14" height="1" fill="#4a4a4a"/><rect x="322" y="20" width="1" height="3" fill="#4a4a4a"/><rect x="436" y="10" width="1" height="14" fill="#4a4a4a"/><rect x="435" y="11" width="3" height="1" fill="#4a4a4a"/><rect x="434" y="21" width="14" height="1" fill="#4a4a4a"/><rect x="446" y="20" width="1" height="3" fill="#4a4a4a"/><rect x="464" y="10" width="1" height="14" fill="#4a4a4a"/><rect x="463" y="11" width="3" height="1" fill="#4a4a4a"/><rect x="462" y="21" width="14" height="1" fill="#4a4a4a"/><rect x="474" y="20" width="1" height="3" fill="#4a4a4a"/><rect x="470" y="10" width="1" height="10" fill="#1b6fa0"/><rect x="517" y="15" width="5" height="1" fill="#000"/><rect x="518" y="16" width="3" height="1" fill="#000"/><rect x="519" y="17" width="1" height="1" fill="#000"/><rect x="556" y="15" width="5" height="1" fill="#000"/><rect x="557" y="16" width="3" height="1" fill="#000"/><rect x="558" y="17" width="1" height="1" fill="#000"/><rect x="595" y="15" width="5" height="1" fill="#000"/><rect x="596" y="16" width="3" height="1" fill="#000"/><rect x="597" y="17" width="1" height="1" fill="#000"/><rect x="901" y="15" width="5" height="1" fill="#000"/><rect x="902" y="16" width="3" height="1" fill="#000"/><rect x="903" y="17" width="1" height="1" fill="#000"/><rect x="656" y="9" width="1" height="6" fill="#4a4a4a"/><rect x="656" y="18" width="1" height="6" fill="#4a4a4a"/><rect x="649" y="16" width="6" height="1" fill="#4a4a4a"/><rect x="658" y="16" width="6" height="1" fill="#4a4a4a"/><rect x="656" y="16" width="1" height="1" fill="#8a8a78"/><rect x="690" y="10" width="1" height="13" fill="#4a4a4a"/><rect x="713" y="16" width="12" height="1" fill="#4a4a4a"/><rect x="796" y="9" width="1" height="1" fill="#4a4a4a"/><rect x="798" y="9" width="1" height="1" fill="#4a4a4a"/><rect x="800" y="9" width="1" height="1" fill="#4a4a4a"/><rect x="802" y="9" width="1" height="1" fill="#4a4a4a"/><rect x="804" y="9" width="1" height="1" fill="#4a4a4a"/><rect x="806" y="9" width="1" height="1" fill="#4a4a4a"/><rect x="808" y="9" width="1" height="1" fill="#4a4a4a"/><rect x="796" y="12" width="1" height="1" fill="#4a4a4a"/><rect x="798" y="12" width="1" height="1" fill="#4a4a4a"/><rect x="800" y="12" width="1" height="1" fill="#4a4a4a"/><rect x="802" y="12" width="1" height="1" fill="#4a4a4a"/><rect x="804" y="12" width="1" height="1" fill="#4a4a4a"/><rect x="806" y="12" width="1" height="1" fill="#4a4a4a"/><rect x="808" y="12" width="1" height="1" fill="#4a4a4a"/><rect x="796" y="16" width="1" height="1" fill="#4a4a4a"/><rect x="798" y="16" width="1" height="1" fill="#4a4a4a"/><rect x="800" y="16" width="1" height="1" fill="#4a4a4a"/><rect x="802" y="16" width="1" height="1" fill="#4a4a4a"/><rect x="804" y="16" width="1" height="1" fill="#4a4a4a"/><rect x="806" y="16" width="1" height="1" fill="#4a4a4a"/><rect x="808" y="16" width="1" height="1" fill="#4a4a4a"/><rect x="796" y="20" width="1" height="1" fill="#4a4a4a"/><rect x="798" y="20" width="1" height="1" fill="#4a4a4a"/><rect x="800" y="20" width="1" height="1" fill="#4a4a4a"/><rect x="802" y="20" width="1" height="1" fill="#4a4a4a"/><rect x="804" y="20" width="1" height="1" fill="#4a4a4a"/><rect x="806" y="20" width="4" height="1" fill="#4a4a4a"/><rect x="806" y="20" width="1" height="5" fill="#4a4a4a"/><rect x="806" y="22" width="3" height="1" fill="#4a4a4a"/><rect x="778" y="20" width="4" height="1" fill="#4a4a4a"/><rect x="778" y="20" width="1" height="5" fill="#4a4a4a"/><rect x="778" y="22" width="3" height="1" fill="#4a4a4a"/><rect x="778" y="24" width="4" height="1" fill="#4a4a4a"/><rect x="852" y="9" width="2" height="2" fill="#4a4a4a"/><rect x="856" y="10" width="1" height="1" fill="#4a4a4a"/><rect x="858" y="10" width="1" height="1" fill="#4a4a4a"/><rect x="860" y="10" width="1" height="1" fill="#4a4a4a"/><rect x="862" y="10" width="1" height="1" fill="#4a4a4a"/><rect x="864" y="10" width="1" height="1" fill="#4a4a4a"/><rect x="853" y="12" width="1" height="1" fill="#4a4a4a"/><rect x="864" y="12" width="1" height="1" fill="#4a4a4a"/><rect x="853" y="14" width="1" height="1" fill="#4a4a4a"/><rect x="864" y="14" width="1" height="1" fill="#4a4a4a"/><rect x="853" y="16" width="1" height="1" fill="#4a4a4a"/><rect x="864" y="16" width="1" height="1" fill="#4a4a4a"/><rect x="853" y="18" width="1" height="1" fill="#4a4a4a"/><rect x="864" y="18" width="1" height="1" fill="#4a4a4a"/><rect x="853" y="20" width="1" height="1" fill="#4a4a4a"/><rect x="864" y="20" width="1" height="1" fill="#4a4a4a"/><rect x="853" y="22" width="1" height="1" fill="#4a4a4a"/><rect x="864" y="22" width="1" height="1" fill="#4a4a4a"/><rect x="855" y="22" width="1" height="1" fill="#4a4a4a"/><rect x="857" y="22" width="1" height="1" fill="#4a4a4a"/><rect x="859" y="22" width="1" height="1" fill="#4a4a4a"/><rect x="861" y="22" width="1" height="1" fill="#4a4a4a"/><rect x="863" y="22" width="1" height="1" fill="#4a4a4a"/><rect x="855" y="13" width="8" height="1" fill="#4a4a4a"/><rect x="858" y="13" width="2" height="8" fill="#4a4a4a"/><rect x="572" y="9" width="16" height="14" fill="#2f76c0"/><rect x="573" y="10" width="14" height="2" fill="url(#gtpl)"/><rect x="573" y="12" width="14" height="5" fill="#fff"/><rect x="573" y="18" width="14" height="4" fill="#fff"/><rect x="574" y="10" width="4" height="1" fill="#d8ecff"/><rect x="574" y="15" width="3" height="1" fill="#a02000"/><rect x="577" y="14" width="2" height="1" fill="#a02000"/><rect x="579" y="13" width="2" height="1" fill="#a02000"/><rect x="581" y="14" width="3" height="1" fill="#a02000"/><rect x="584" y="13" width="2" height="1" fill="#a02000"/><rect x="575" y="20" width="2" height="1" fill="#108020"/><rect x="577" y="19" width="2" height="1" fill="#108020"/><rect x="579" y="20" width="2" height="1" fill="#108020"/><rect x="581" y="19" width="1" height="1" fill="#108020"/><rect x="582" y="18" width="2" height="1" fill="#108020"/><rect x="584" y="19" width="1" height="1" fill="#108020"/><rect x="585" y="20" width="1" height="1" fill="#108020"/><rect x="398" y="8" width="8" height="8" rx="1" fill="url(#gtg)"/><rect x="399" y="9" width="1" height="1" fill="#e8f0ff"/><path d="M399 11h6v4h-1v-1h-4v1h-1z" fill="#fff"/><rect x="400" y="12" width="4" height="1" fill="#a8dc90"/><rect x="406" y="8" width="8" height="8" rx="1" fill="url(#gtb)"/><rect x="407" y="9" width="1" height="1" fill="#e8f0ff"/><path d="M407 11h6v4h-1v-1h-4v1h-1z" fill="#fff"/><rect x="408" y="12" width="4" height="1" fill="#90a8f0"/><rect x="398" y="16" width="8" height="8" rx="1" fill="url(#gtb)"/><rect x="399" y="17" width="1" height="1" fill="#e8f0ff"/><path d="M399 19h6v4h-1v-1h-4v1h-1z" fill="#fff"/><rect x="400" y="20" width="4" height="1" fill="#90a8f0"/><rect x="406" y="16" width="8" height="8" rx="1" fill="url(#gtg)"/><rect x="407" y="17" width="1" height="1" fill="#e8f0ff"/><path d="M407 19h6v4h-1v-1h-4v1h-1z" fill="#fff"/><rect x="408" y="20" width="4" height="1" fill="#a8dc90"/></g><g><path d="M12.5 8.5h8l3 3v10h-11z" fill="#fff" stroke="#757575"/><path d="M20.5 8.5v3h3" fill="none" stroke="#757575"/><rect x="14" y="10" width="3" height="2" fill="#8a8a8a"/><rect x="14" y="14" width="6" height="1" fill="#8a8a8a"/><rect x="14" y="16" width="5" height="1" fill="#8a8a8a"/><rect x="14" y="18" width="3" height="1" fill="#8a8a8a"/><path d="M20.5 14.5h3v4h4v3h-4v4h-3v-4h-4v-3h4z" fill="url(#gplus)" stroke="#008a00"/><path d="M495.5 8.5h8l3 3v10h-11z" fill="#fff" stroke="#757575"/><path d="M503.5 8.5v3h3" fill="none" stroke="#757575"/><path d="M500.5 10.2c-2 0-2.6 1-2.6 3v6.5M496.6 14.5h3.6" fill="none" stroke="#4a4630" stroke-width="1.1"/><path d="M503.5 14.5h3v4h4v3h-4v4h-3v-4h-4v-3h4z" fill="url(#gplus)" stroke="#008a00"/><path d="M84.7 9.1 L94.9 17 L94.9 18.6 L87.2 24 L85.8 24 L79 18.5 L79 17.2 Q82.4 14.4 83.5 9.6 Z" fill="#b47a10" stroke="#9a5c04" stroke-width=".6" stroke-linejoin="round"/><path d="M84.6 10.2 L93.6 17 L86.6 21.7 L80.3 17.3 Q83.4 14.6 84.1 10.4 Z" fill="url(#ggold)"/><path d="M80.4 18.5 L86.6 22.8 L93.8 18.2" fill="none" stroke="#ffeaa4" stroke-width="1.1"/><path d="M109 8.5h8l3 1.5v8h-11z" fill="url(#gsrv)"/><path d="M109.3 8.8l3 2v7M112.3 10.8h7.5" fill="none" stroke="#d8f0ff" stroke-width=".8"/><rect x="114" y="12.5" width="4.5" height="1.2" fill="#e8f6ff"/><path d="M110.2 23.4c-3.6 0-4-4.4-.8-4.8c.2-2 2.8-2.4 3.8-1.2c1.4-2 4.6-1.4 5 .8c3.8-1 5.8 5.2 1.200 5.2z" fill="url(#gcloud)" stroke="#3454a0" stroke-width="1.1"/><circle cx="143" cy="16" r="7.4" fill="#e4efe0" fill-opacity=".7" stroke="#6a90d8" stroke-width="1.1" stroke-opacity=".75"/><circle cx="143" cy="16" r="4.6" fill="none" stroke="#5a84d4" stroke-width="1.1" stroke-opacity=".7"/><path d="M143.5 16 L143.5 23.6 A7.6 7.6 0 0 0 150.4 14 Z" fill="#38a038" fill-opacity=".55"/><circle cx="142.6" cy="15.4" r="2" fill="#2a58cc"/><rect x="143" y="16" width="1.2" height="7.8" fill="#18a018"/><path d="M163 15.4 L177.6 14.4 L177.4 16.4 L170.6 23.6 L168.8 23.6 L162.6 17.2 Z" fill="url(#gface)" stroke="#c09000" stroke-width=".9"/><path d="M162 13.6c0-1.600 2-2.400 4.200-2.600c.4-3.600 6.800-3.800 7.400-.4c2.200 0 4.200.8 4.200 2.200c0 2.200-4.600 3.600-8.200 3.600c-3.600 0-7.600-1.200-7.600-2.800z" fill="url(#ghat)" stroke="#1c7aa8" stroke-width=".9"/><path d="M166.200 11.400c1.200 1.400 5.800 1.400 7.400-.2" fill="none" stroke="#1c7aa8" stroke-width=".8"/><circle cx="174.4" cy="19.6" r="4.1" fill="url(#gstop)"/><rect x="173" y="18.2" width="3" height="3" fill="#fff"/><path d="M310.8 18.8C313.6 17.6 314.6 13.4 317.2 13.4C319.4 13.4 320.4 16.6 322.8 17" fill="none" stroke="#1e961e" stroke-width="1.2"/><line x1="352" y1="18" x2="357" y2="23" stroke="#a87800" stroke-width="4.2" stroke-linecap="butt"/><line x1="352.2" y1="18.2" x2="356.6" y2="22.6" stroke="#f8e040" stroke-width="2.2"/><circle cx="348" cy="14" r="5.2" fill="url(#glens)" stroke="#2e70c0" stroke-width="1.5"/><rect x="344.5" y="13" width="7" height="2" fill="#4a88b4"/><rect x="347" y="10.5" width="2" height="7" fill="#4a88b4"/><line x1="380" y1="18" x2="385" y2="23" stroke="#a87800" stroke-width="4.2" stroke-linecap="butt"/><line x1="380.2" y1="18.2" x2="384.6" y2="22.6" stroke="#f8e040" stroke-width="2.2"/><circle cx="376" cy="14" r="5.2" fill="url(#glens)" stroke="#2e70c0" stroke-width="1.5"/><rect x="372.5" y="13" width="7" height="2" fill="#4a88b4"/><path d="M441.5 12.5v7l4-3.5z" fill="#50e870" stroke="#008a00" stroke-width="1"/><path d="M471.2 15.5l2.8-2.6v2h2.2v1.2h-2.2v2z" fill="#ff7010" stroke="#a83000" stroke-width=".8" stroke-linejoin="round"/><circle cx="541" cy="16" r="6.9" fill="#fafafa" stroke="url(#gclock)" stroke-width="2.4"/><path d="M540.5 12.2v4.3h3.2" fill="none" stroke="#222" stroke-width="1.2"/><path d="M541 10.6v.8M541 20.6v.8M535.6 16h.8M545.6 16h.8" stroke="#999" stroke-width=".8"/><path d="M624 9 L624 20 L626.6 17.8 L628.8 22.8 L630.8 21.9 L628.7 17 L632 16.6 Z" fill="#4a4a4a"/><line x1="740.6" y1="23" x2="753" y2="10.6" stroke="#4a4a4a" stroke-width="1"/><path d="M767 17.6L775 9.9M772 23L781 14.4" stroke="#4a4a4a" stroke-width="1" fill="none"/><path d="M770 14.6l-.8 8.4M773 12.4l-.6 7.4M776 11.6l-.4 6.4M778.6 8l.4 7.4" stroke="#4a4a4a" stroke-width="1.3" fill="none"/><text x="826.9" y="21" font-size="12.6" fill="#4a4a4a" stroke="#4a4a4a" stroke-width=".4" textLength="7.6" lengthAdjust="spacingAndGlyphs">A</text><path d="M883.5 9.8l3.6 3.2v1.2h-7.2v-1.2z" fill="#4a4a4a"/><path d="M890.5 23l3.6-3.2v-1.2h-7.2v1.2z" fill="#4a4a4a"/><path d="M882.4 17.4l2.2 2.2l4.2-5.2" fill="none" stroke="#4a4a4a" stroke-width="1.3"/><line x1="1636" y1="20.6" x2="1640.6" y2="16" stroke="#1c58d0" stroke-width="2"/><circle cx="1643.5" cy="13.4" r="3.9" fill="#f4f8ff" stroke="#1c58d0" stroke-width="1.2"/><path d="M1662 23.6l1.2-3c-5-3-1.6-7.6 4.4-7.6c6 0 8 5.4 2.4 7.6c-2 .8-4 .6-5.4 .8z" fill="#e0e2ec" stroke="#a8a8a8" stroke-width=".8"/><circle cx="1674.5" cy="13.4" r="8.1" fill="url(#gbadge)"/><text x="1673.6" y="18.1" font-size="13" fill="#fff" text-anchor="middle" font-family="'Liberation Serif','DejaVu Serif',serif">1</text><text x="31.2" y="19.4" font-size="11.6" letter-spacing=".4" fill="#000" stroke="#000" stroke-width=".1">新订单</text><text x="183.2" y="19.4" font-size="11.6" letter-spacing=".4" fill="#000" stroke="#000" stroke-width=".1">自动交易</text><g class="ct"><text y="20" fill="#3a3a3a" stroke="#3a3a3a" stroke-width="0.18"><tspan x="927" class="w" style="font-size:9.4px">M</tspan><tspan x="936" style="font-size:9px">1</tspan></text><text y="20" fill="#3a3a3a" stroke="#3a3a3a" stroke-width="0.18"><tspan x="955" class="w" style="font-size:9.4px">M</tspan><tspan x="963" style="font-size:9px">5</tspan></text><text y="20" fill="#3a3a3a" stroke="#3a3a3a" stroke-width="0.18"><tspan x="981" class="w" style="font-size:9.4px">M</tspan><tspan x="990" style="font-size:9px">1</tspan><tspan x="994" style="font-size:9px">5</tspan></text><text y="20" fill="#3a3a3a" stroke="#3a3a3a" stroke-width="0.18"><tspan x="1009" class="w" style="font-size:9.4px">M</tspan><tspan x="1017" style="font-size:9px">3</tspan><tspan x="1022" style="font-size:9px">0</tspan></text><text y="20" fill="#3a3a3a" stroke="#3a3a3a" stroke-width="0.18"><tspan x="1040" class="w" style="font-size:9.4px">H</tspan><tspan x="1048" style="font-size:9px">1</tspan></text><text y="20" fill="#3a3a3a" stroke="#3a3a3a" stroke-width="0.18"><tspan x="1067" class="w" style="font-size:9.4px">H</tspan><tspan x="1074" style="font-size:9px">4</tspan></text><text y="20" fill="#3a3a3a" stroke="#3a3a3a" stroke-width="0.18"><tspan x="1096" class="w" style="font-size:9.4px">D</tspan><tspan x="1104" style="font-size:9px">1</tspan></text><text y="20" fill="#3a3a3a" stroke="#3a3a3a" stroke-width="0.18"><tspan x="1124" class="w" style="font-size:9.4px">W</tspan><tspan x="1134" style="font-size:9px">1</tspan></text><text y="20" fill="#3a3a3a" stroke="#3a3a3a" stroke-width="0.18"><tspan x="1150" class="w" style="font-size:9.4px">M</tspan><tspan x="1158" class="w" style="font-size:9.4px">N</tspan></text></g></g>
</svg>
</body></html>
